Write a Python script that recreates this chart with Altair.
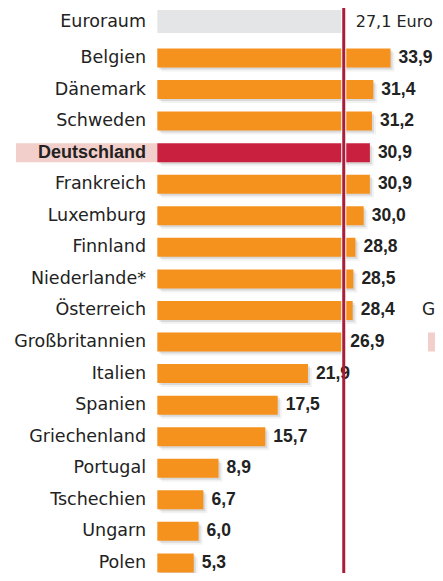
import altair as alt
import pandas as pd

# ---- data ----
countries = ["Belgien", "Dänemark", "Schweden", "Deutschland", "Frankreich",
             "Luxemburg", "Finnland", "Niederlande*", "Österreich",
             "Großbritannien", "Italien", "Spanien", "Griechenland",
             "Portugal", "Tschechien", "Ungarn", "Polen"]
values = [33.9, 31.4, 31.2, 30.9, 30.9, 30.0, 28.8, 28.5, 28.4,
          26.9, 21.9, 17.5, 15.7, 8.9, 6.7, 6.0, 5.3]
highlight = "Deutschland"
euro_name = ["Euroraum"]
euro_value = [27.1]
euro_unit = "Euro"
# fragments of the neighbouring panel visible at the right edge
frag_text = ["G"]
frag_text_row = ["Österreich"]
frag_box_row = ["Großbritannien"]

# ---- styling ----
ORANGE = "#f5921e"
RED = "#c8203e"
LINE = "#a81d3a"
GREY = "#e4e5e7"
PINK = "#f2cfca"
TXT = "#222222"
NAME_FONT = "DejaVu Sans"
VAL_FONT = "Liberation Sans"

W, H = 427, 565

df = pd.DataFrame({"land": countries, "wert": values})
df["label"] = df["wert"].map(lambda v: f"{v:.1f}".replace(".", ","))
df["hl"] = df["land"] == highlight

edf = pd.DataFrame({"land": euro_name, "wert": euro_value})
edf["label"] = edf["wert"].map(lambda v: f"{v:.1f}".replace(".", ",") + " " + euro_unit)

fdf = pd.DataFrame({"land": frag_text_row, "t": frag_text})
bdf = pd.DataFrame({"land": frag_box_row})

xs = alt.Scale(domain=[0, 40], range=[149.3, 424.5])
ys = alt.Scale(domain=countries, range=[34.2, 570.7], paddingInner=0.398, paddingOuter=0.199)
es = alt.Scale(domain=euro_name, range=[2, 25], paddingInner=0, paddingOuter=0)

X = alt.X("wert:Q", scale=xs, axis=None)
Y = alt.Y("land:N", scale=ys, axis=None, sort=None)
YE = alt.Y("land:N", scale=es, axis=None, sort=None)

base = alt.Chart(df)

hl_bg = base.transform_filter(alt.datum.hl).mark_bar(color=PINK).encode(
    x=alt.value(8), x2=alt.value(149.3), y=Y)

shadow2 = base.mark_bar(color="#000000", opacity=0.05, xOffset=4, x2Offset=4,
                        yOffset=4, y2Offset=4).encode(x=X, y=Y)
shadow1 = base.mark_bar(color="#000000", opacity=0.10, xOffset=2, x2Offset=2,
                        yOffset=2, y2Offset=2).encode(x=X, y=Y)

bars = base.mark_bar().encode(
    x=X, y=Y,
    color=alt.condition(alt.datum.hl, alt.value(RED), alt.value(ORANGE)))

euro_bar = alt.Chart(edf).mark_bar(color=GREY).encode(x=X, y=YE)

white_rule = alt.Chart(edf).mark_rule(color="white", strokeWidth=5).encode(
    x=X, y=alt.value(0), y2=alt.value(H))
red_rule = alt.Chart(edf).mark_rule(color=LINE, strokeWidth=3).encode(
    x=X, y=alt.value(0), y2=alt.value(H))

names = base.transform_filter(~alt.datum.hl).mark_text(
    align="right", baseline="middle", font=NAME_FONT, fontSize=17.5, color=TXT).encode(
    x=alt.value(138), y=Y, text="land:N")
names_hl = base.transform_filter(alt.datum.hl).mark_text(
    align="right", baseline="middle", font=VAL_FONT, fontSize=18, fontWeight="bold",
    color=TXT).encode(x=alt.value(138), y=Y, text="land:N")

vals = base.mark_text(align="left", baseline="middle", dx=8, font=VAL_FONT,
                      fontSize=17.5, fontWeight="bold", color=TXT).encode(
    x=X, y=Y, text="label:N")

euro_name_t = alt.Chart(edf).mark_text(align="right", baseline="middle", font=NAME_FONT,
                                       fontSize=17.5, color=TXT).encode(
    x=alt.value(138), y=YE, text="land:N")
euro_val_t = alt.Chart(edf).mark_text(align="left", baseline="middle", dx=12, font=NAME_FONT,
                                      fontSize=16, color=TXT).encode(
    x=X, y=YE, text="label:N")

frag_t = alt.Chart(fdf).mark_text(align="left", baseline="middle", font=NAME_FONT,
                                  fontSize=17, color=TXT).encode(
    x=alt.value(414), y=Y, text="t:N")
frag_b = alt.Chart(bdf).mark_bar(color=PINK).encode(
    x=alt.value(420), x2=alt.value(427), y=Y)

chart = alt.layer(
    hl_bg, shadow2, shadow1, bars, euro_bar, white_rule, vals, red_rule,
    names, names_hl, euro_name_t, euro_val_t, frag_t, frag_b
).resolve_scale(y="independent").properties(
    width=W, height=H, autosize=alt.AutoSizeParams(type="none"), padding=0
).configure_view(stroke=None)

chart.save("out.html", embed_options={"renderer": "svg", "actions": False})
